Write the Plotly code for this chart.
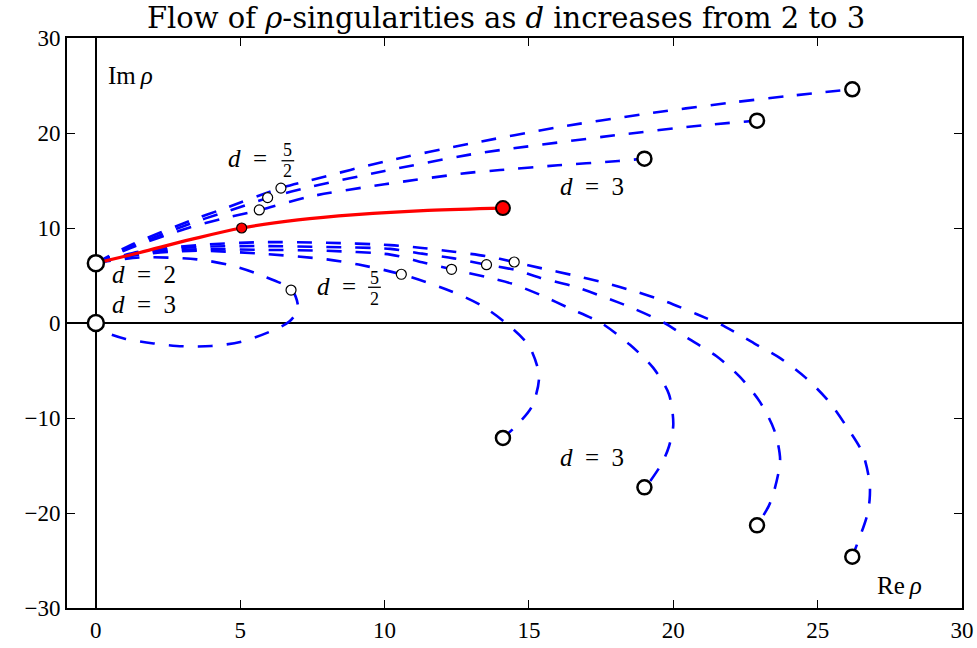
import plotly.graph_objects as go

# ---- data ----
start_x = [0.0, 0.0]
start_y = [6.3, 0.0]

up1_x = [0, 1.2, 3.3, 4.4, 6.4, 7.4, 10.0, 13.0, 16.0, 19.0, 22.0, 24.0, 26.2]
up1_y = [6.3, 8.2, 10.8, 12.0, 14.2, 15.0, 17.0, 18.9, 20.6, 22.0, 23.2, 23.9, 24.6]
up2_x = [0, 1.2, 3.3, 4.4, 6.0, 7.4, 10.0, 12.9, 14.0, 18.1, 21.0, 22.9]
up2_y = [6.3, 8.0, 10.5, 11.6, 13.2, 14.3, 16.0, 17.7, 18.2, 19.8, 20.8, 21.3]
up3_x = [0, 1.2, 3.3, 4.4, 5.7, 7.4, 10.0, 12.9, 14.0, 16.0, 18.1, 19.0]
up3_y = [6.3, 7.9, 10.1, 11.0, 11.9, 13.3, 14.6, 15.8, 16.1, 16.6, 17.05, 17.3]
red_x = [0, 1.5, 3.3, 5.05, 7.0, 9.0, 11.5, 14.1]
red_y = [6.3, 7.4, 8.8, 10.0, 10.85, 11.4, 11.85, 12.1]

lo0_x = [0, 1.5, 3.5, 4.7, 5.75, 6.79, 7.0, 6.7, 6.0, 5.0, 4.0, 3.0, 2.0, 1.0, 0.3, 0]
lo0_y = [6.3, 6.9, 6.7, 6.05, 5.0, 3.47, 1.5, 0.15, -0.95, -2.0, -2.42, -2.45, -2.15, -1.65, -0.9, 0]
lo1_x = [0, 1.5, 3.5, 5.7, 8.0, 9.1, 10.58, 12.3, 13.35, 14.2, 15.0, 15.35, 15.1, 14.5, 14.1]
lo1_y = [6.3, 7.2, 7.6, 7.3, 6.7, 6.15, 5.13, 3.35, 1.85, 0.0, -2.4, -5.6, -8.8, -11.0, -12.1]
lo2_x = [0, 1.5, 3.5, 5.7, 8.0, 10.2, 11.3, 12.32, 13.5, 14.4, 15.4, 16.4, 17.5, 18.5, 19.3, 19.85, 20.0, 19.85, 19.6, 19.05]
lo2_y = [6.3, 7.3, 7.75, 7.7, 7.6, 7.2, 6.4, 5.65, 4.85, 4.15, 2.95, 1.55, 0.0, -2.3, -4.7, -7.5, -10.7, -13.0, -14.8, -17.3]
lo3_x = [0, 1.5, 3.5, 5.7, 8.0, 10.2, 11.3, 12.4, 13.53, 14.5, 15.4, 16.5, 17.57, 18.6, 19.7, 20.5, 21.5, 22.3, 23.0, 23.5, 23.7, 23.5, 23.3, 22.9]
lo3_y = [6.3, 7.4, 8.0, 8.1, 8.0, 7.8, 7.3, 6.8, 6.14, 5.6, 4.75, 3.9, 2.77, 1.55, 0.0, -1.6, -3.5, -5.65, -8.3, -11.3, -14.4, -17.6, -19.3, -21.3]
lo4_x = [0, 1.5, 3.5, 5.7, 8.0, 10.2, 11.3, 12.4, 13.5, 14.49, 15.45, 16.5, 17.6, 18.7, 19.75, 20.8, 21.8, 22.8, 23.7, 24.6, 25.4, 26.0, 26.56, 26.8, 26.8, 26.7, 26.2]
lo4_y = [6.3, 7.5, 8.2, 8.5, 8.45, 8.2, 7.9, 7.5, 7.05, 6.42, 5.75, 5.05, 4.25, 3.3, 2.25, 0.95, -0.4, -2.14, -3.7, -5.8, -8.3, -10.9, -13.7, -16.8, -18.6, -20.4, -24.6]

end_x = [26.2, 22.9, 19.0, 26.2, 22.9, 19.0, 14.1]
end_y = [24.6, 21.3, 17.3, -24.6, -21.3, -17.3, -12.1]
red_end_x = [14.1]
red_end_y = [12.1]

mid_x = [5.66, 5.95, 6.41, 6.76, 10.58, 12.32, 13.53, 14.49]
mid_y = [11.9, 13.2, 14.2, 3.47, 5.13, 5.65, 6.14, 6.42]
red_mid_x = [5.05]
red_mid_y = [10.0]

x_ticks = [0, 5, 10, 15, 20, 25, 30]
y_ticks = [-30, -20, -10, 0, 10, 20, 30]

FONT = "Liberation Serif"
TITLE_FONT = "DejaVu Serif"
BLUE = "#0000ff"

fig = go.Figure()

def dashed(xs, ys):
    fig.add_trace(go.Scatter(x=xs, y=ys, mode="lines",
                             line=dict(color=BLUE, width=2.6, dash="15px,14px",
                                       shape="spline", smoothing=0.8),
                             hoverinfo="skip", showlegend=False))

for xs, ys in [(up1_x, up1_y), (up2_x, up2_y), (up3_x, up3_y),
               (lo0_x, lo0_y), (lo1_x, lo1_y), (lo2_x, lo2_y),
               (lo3_x, lo3_y), (lo4_x, lo4_y)]:
    dashed(xs, ys)

fig.add_trace(go.Scatter(x=red_x, y=red_y, mode="lines",
                         line=dict(color="#ff0000", width=3.2, shape="spline", smoothing=1.0),
                         hoverinfo="skip", showlegend=False))

fig.add_trace(go.Scatter(x=mid_x, y=mid_y, mode="markers",
                         marker=dict(size=10, color="white", line=dict(color="black", width=1.2)),
                         showlegend=False))
fig.add_trace(go.Scatter(x=red_mid_x, y=red_mid_y, mode="markers",
                         marker=dict(size=10, color="#ff0000", line=dict(color="black", width=1.2)),
                         showlegend=False))
fig.add_trace(go.Scatter(x=end_x, y=end_y, mode="markers",
                         marker=dict(size=14, color="white", line=dict(color="black", width=2.5)),
                         showlegend=False))
fig.add_trace(go.Scatter(x=red_end_x, y=red_end_y, mode="markers",
                         marker=dict(size=14, color="#ff0000", line=dict(color="black", width=2)),
                         showlegend=False))
fig.add_trace(go.Scatter(x=start_x, y=start_y, mode="markers",
                         marker=dict(size=16, color="white", line=dict(color="black", width=2.5)),
                         showlegend=False))

def label(x, y, text, size=25, xanchor="left"):
    fig.add_annotation(x=x, y=y, text=text, showarrow=False, xanchor=xanchor,
                       yanchor="middle", font=dict(family=FONT, size=size, color="black"))

EQ = "\u2002=\u2002"
label(0.35, 26.1, "Im\u2009<i>ρ</i>")
label(27.0, -27.6, "Re\u2009<i>ρ</i>")
label(0.5, 5.15, "<i>d</i>" + EQ + "2")
label(0.5, 2.0, "<i>d</i>" + EQ + "3")
label(16.0, 14.4, "<i>d</i>" + EQ + "3")
label(16.0, -14.16, "<i>d</i>" + EQ + "3")
# d = 5/2 (upper)
label(4.5, 17.35, "<i>d</i>" + EQ)
label(6.65, 18.25, "5", size=18, xanchor="center")
label(6.65, 16.0, "2", size=18, xanchor="center")
# d = 5/2 (lower)
label(7.6, 3.82, "<i>d</i>" + EQ)
label(9.65, 4.7, "5", size=18, xanchor="center")
label(9.65, 2.5, "2", size=18, xanchor="center")
for cx, cy in [(6.65, 17.08), (9.65, 3.76)]:
    fig.add_shape(type="line", x0=cx - 0.22, x1=cx + 0.22, y0=cy, y1=cy,
                  line=dict(color="black", width=1.3))

axis_common = dict(showgrid=False, showline=True, linecolor="black", linewidth=2,
                   mirror="ticks", ticks="inside", ticklen=8, tickwidth=1.3,
                   tickcolor="black", zeroline=True, zerolinecolor="black",
                   zerolinewidth=2, automargin=False,
                   tickfont=dict(family=FONT, size=23, color="black"))

fig.update_xaxes(range=[-1, 30], tickvals=x_ticks, **axis_common)
fig.update_yaxes(range=[-30, 30], tickvals=y_ticks, **axis_common)

fig.update_layout(
    width=977, height=648,
    margin=dict(l=67, r=15, t=38, b=40, autoexpand=False),
    paper_bgcolor="white", plot_bgcolor="white",
    title=dict(text="Flow of <i>ρ</i>-singularities as <i>d</i> increases from 2 to 3",
               x=0.518, xanchor="center", y=0.973, yanchor="middle",
               font=dict(family=TITLE_FONT, size=29, color="black")),
)

# remove the default 8px page margin so the figure sits at the window's corner
fig.write_html("out.html",
               config={"displayModeBar": False},
               post_script="document.body.style.margin='0';document.body.style.overflow='hidden';")
